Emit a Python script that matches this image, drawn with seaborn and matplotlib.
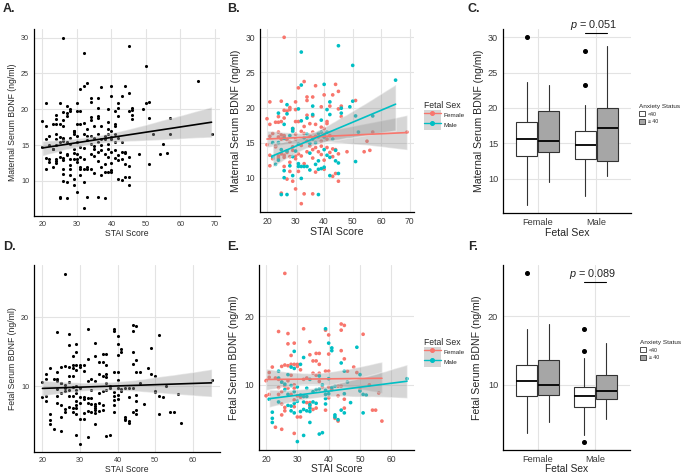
import matplotlib
matplotlib.use("Agg")
import numpy as np
import pandas as pd
import matplotlib.pyplot as plt
from matplotlib.patches import Patch
from matplotlib.lines import Line2D
import seaborn as sns

# --- Maternal serum BDNF vs STAI (panels A, B) ---
MAT_F_STAI = [
    26, 33, 31, 37, 44, 45, 43, 40,
    21, 25, 30, 34, 34, 36, 42, 45, 46, 51, 28, 28, 30, 39,
    20, 21, 24, 26, 27, 23, 24, 25, 26, 29, 30, 31, 33, 34, 35, 36, 37, 39, 40, 41, 41, 46,
    20, 21, 22, 23, 24, 24, 25, 25, 26, 26, 27, 28, 29, 30, 30, 32, 33, 34, 35, 36, 37, 38, 39, 40, 41, 42, 57, 69,
    21, 21, 22, 23, 24, 24, 25, 26, 26, 26, 27, 28, 28, 29, 29, 30, 30, 31, 32, 32,
    33, 34, 35, 36, 36, 37, 38, 39, 39, 40, 41, 42, 43, 43, 44, 45, 48, 54, 56, 55,
    27, 28, 29, 30, 31, 37, 40, 43, 44, 45, 25, 33, 36, 32,
]
MAT_F_BDNF = [
    30.0, 23.7, 22.8, 23.1, 23.3, 22.3, 21.8, 21.8,
    20.8, 20.9, 20.8, 21.5, 21.0, 21.5, 20.2, 19.8, 20.2, 21.0, 20.0, 19.7, 19.7, 20.1,
    18.4, 17.6, 18.7, 19.6, 19.5, 17.9, 17.9, 18.0, 18.5, 17.0, 18.0, 18.0, 17.3, 18.9, 17.7, 18.8, 17.6, 17.2, 17.0, 18.0, 17.7, 18.7,
    14.7, 15.9, 16.3, 14.5, 16.5, 15.8, 16.1, 15.5, 16.0, 15.8, 15.4, 15.1, 16.8, 16.2, 15.5, 16.6, 16.3, 15.2, 16.0, 16.5, 15.9, 15.8, 15.2, 16.1, 15.5, 16.0, 16.5, 16.5,
    11.7, 13.2, 12.7, 14.4, 13.1, 12.8, 13.4, 13.2, 12.9, 11.6, 13.6, 13.0, 12.2, 13.9, 14.4, 13.1, 12.7, 13.4, 13.1, 14.6,
    12.0, 13.7, 14.5, 14.0, 12.8, 14.3, 13.7, 14.5, 13.3, 12.5, 14.3, 13.6, 13.0, 14.1, 14.0, 13.4, 13.7, 13.7, 13.9, 15.2,
    9.8, 10.9, 9.5, 8.4, 10.9, 10.8, 11.2, 10.2, 10.6, 9.5, 7.8, 7.7, 7.7, 6.3,
]
MAT_M_STAI = [
    32, 45, 50, 65, 32, 40,
    42, 46, 50, 49, 27, 31, 36, 41,
    24, 27, 26, 29, 32, 34, 36, 39, 39, 42, 46, 51, 57,
    22, 24, 26, 28, 29, 31, 33, 34, 35, 36, 37, 38, 40, 41, 43, 52,
    22, 23, 24, 25, 26, 27, 28, 29, 30, 31, 31, 32, 33, 34, 35, 35, 37, 38, 40, 40, 41, 42, 44, 44, 45, 51,
    26, 29, 32, 38, 39, 42, 45, 25, 27, 38,
]
MAT_M_BDNF = [
    27.9, 28.8, 26.0, 23.9, 23.2, 23.3,
    20.8, 19.9, 20.9, 20.1, 20.4, 19.8, 20.2, 19.7,
    19.2, 19.1, 17.6, 16.6, 18.1, 18.5, 19.0, 18.2, 16.5, 19.0, 19.2, 18.8, 18.8,
    15.0, 15.0, 15.6, 16.0, 17.0, 14.8, 15.7, 16.2, 14.9, 15.5, 15.0, 16.3, 15.8, 16.5, 15.5, 16.5,
    13.0, 11.9, 12.5, 14.0, 11.0, 13.8, 11.7, 13.0, 13.8, 12.0, 11.6, 11.6, 11.6, 11.6, 13.5, 11.1, 11.9, 12.4, 14.0, 11.5, 13.2, 12.9, 12.4, 13.9, 12.1, 12.3,
    10.0, 10.3, 9.9, 11.2, 11.3, 10.3, 10.6, 7.6, 7.6, 7.6,
]

# --- Fetal serum BDNF vs STAI (panels D, E) ---
FET_F_STAI = [
    26, 24, 27, 27, 29, 28, 32, 34, 35, 36, 37, 37, 34, 36, 39, 40, 40, 40, 44, 45, 44, 44, 45, 51, 46, 48, 49,
    20, 20, 21, 21, 21, 22, 23, 23, 24, 24, 24, 25, 25, 25, 25, 25, 25, 26, 26, 26, 26, 27, 27, 27,
    28, 28, 28, 29, 29, 29, 29, 29, 29, 30, 30, 30, 30,
    31, 31, 31, 32, 33, 33, 34, 34, 35, 35, 36, 36, 37, 37, 38, 39, 39, 40, 40, 41, 42, 43, 43, 43,
    44, 45, 45, 50, 53, 54, 55, 56, 57,
]
FET_F_BDNF = [
    26.3, 17.8, 17.5, 16.0, 16.1, 14.3, 18.2, 16.3, 13.5, 14.6, 14.6, 13.0, 14.4, 13.5, 18.0, 17.3, 14.5, 12.0, 18.9, 18.7, 18.0, 15.0, 13.8, 17.4, 12.0, 12.6, 11.8,
    10.6, 8.4, 11.8, 11.1, 8.6, 12.6, 11.0, 3.8, 10.8, 9.6, 8.6, 12.7, 10.4, 9.0, 7.2, 5.6, 3.5, 12.9, 9.8, 6.7, 6.2, 12.8, 10.6, 9.5,
    13.0, 11.4, 8.6, 13.0, 10.0, 9.5, 7.8, 6.8, 2.9, 13.0, 12.7, 8.4, 5.3,
    12.2, 8.2, 5.3, 10.8, 11.0, 7.4, 7.4, 6.9, 11.7, 6.4, 11.4, 6.6, 11.7, 10.5, 9.7, 12.0, 6.3, 9.7, 8.1, 9.3, 5.1, 9.8, 4.7, 8.4,
    9.8, 6.6, 7.9, 9.3, 10.0, 6.3, 6.3, 8.8, 4.7,
]
FET_M_STAI = [
    29, 39, 40, 41, 41, 44, 49, 45, 50,
    21, 22, 22, 22, 24, 24, 24, 25, 26, 26, 27, 27, 27, 28, 28, 28, 28, 29, 29, 29, 29, 30, 30, 30,
    31, 31, 31, 32, 32, 32, 32, 32, 33, 33, 33, 34, 34, 34, 34, 34, 35, 35, 36, 36, 37, 37, 37, 38, 38,
    39, 39, 39, 39, 40, 40, 41, 42, 42, 42, 43, 44, 45, 45, 46, 47, 50, 51, 51, 52, 65,
]
FET_M_BDNF = [
    14.9, 18.2, 16.1, 15.4, 15.0, 13.2, 15.5, 12.0, 11.5,
    7.9, 6.0, 5.1, 4.5, 12.0, 11.0, 7.5, 10.4, 10.1, 9.3, 11.5, 8.6, 7.0, 12.6, 9.9, 6.9, 6.2, 12.4, 9.0, 7.3, 5.9, 9.7, 7.6, 1.7,
    13.0, 8.5, 6.1, 14.0, 8.3, 7.5, 6.4, 2.6, 9.5, 8.3, 6.2, 10.8, 7.1, 6.6, 6.1, 4.5, 9.0, 7.5, 9.3, 7.3, 11.3, 9.4, 2.8, 10.0, 3.0,
    9.2, 8.6, 8.0, 7.2, 10.9, 8.7, 9.6, 9.8, 5.6, 5.3, 4.9, 6.3, 8.7, 5.9, 10.4, 7.4, 9.1, 8.6, 5.9, 8.5, 10.9,
]

# --- Box summaries by fetal sex and anxiety status (panels C, F) ---
SEXES = ["Female", "Male"]
ANXIETY = ["<40", "\u2265 40"]
BOX_SEX = ["Female", "Female", "Male", "Male"]
BOX_ANX = ["<40", "\u2265 40", "<40", "\u2265 40"]
MAT_BOX_LO = [6.3, 9.5, 7.5, 10.3]
MAT_BOX_Q1 = [13.2, 13.7, 12.7, 12.5]
MAT_BOX_MED = [15.6, 15.3, 14.7, 17.2]
MAT_BOX_Q3 = [18.0, 19.6, 16.8, 20.0]
MAT_BOX_HI = [23.7, 23.3, 20.4, 28.8]
MAT_BOX_OUT = [[30.0], [], [23.2, 28.0], []]
FET_BOX_LO = [3.0, 4.6, 2.7, 5.0]
FET_BOX_Q1 = [8.3, 8.5, 6.7, 7.9]
FET_BOX_MED = [10.5, 10.0, 8.3, 9.1]
FET_BOX_Q3 = [12.9, 13.7, 9.7, 11.5]
FET_BOX_HI = [18.2, 18.9, 14.0, 16.1]
FET_BOX_OUT = [[26.3], [], [18.2, 14.9, 1.7], []]
MAT_P_TEXT, MAT_P_Y = "0.051", 30.55
FET_P_TEXT, FET_P_Y = "0.089", 25.0

SEX_COLORS = {"Female": "#F8766D", "Male": "#00BFC4"}
ANX_COLORS = {"<40": "white", "\u2265 40": "#A6A6A6"}
GRID = "#E3E3E3"

mat = pd.DataFrame({
    "stai": MAT_F_STAI + MAT_M_STAI,
    "bdnf": MAT_F_BDNF + MAT_M_BDNF,
    "sex": ["Female"] * len(MAT_F_STAI) + ["Male"] * len(MAT_M_STAI),
})
fet = pd.DataFrame({
    "stai": FET_F_STAI + FET_M_STAI,
    "bdnf": FET_F_BDNF + FET_M_BDNF,
    "sex": ["Female"] * len(FET_F_STAI) + ["Male"] * len(FET_M_STAI),
})

sns.set_theme(style="whitegrid")
plt.rcParams["font.family"] = ["Liberation Sans", "DejaVu Sans"]
plt.rcParams["mathtext.fontset"] = "custom"
plt.rcParams["mathtext.it"] = "Liberation Sans:italic"
plt.rcParams["mathtext.rm"] = "Liberation Sans"

W, H = 685, 474
fig = plt.figure(figsize=(W / 100, H / 100), dpi=100)
fig.patch.set_facecolor("white")


def panel(left, top, right, bottom):
    return fig.add_axes([left / W, 1 - bottom / H, (right - left) / W, (bottom - top) / H])


def expand(values, frac=0.05):
    lo, hi = min(values), max(values)
    pad = (hi - lo) * frac
    return lo - pad, hi + pad


def style(ax, tick_fs):
    ax.set_facecolor("white")
    ax.grid(True, color=GRID, lw=0.8)
    ax.set_axisbelow(True)
    for s in ["top", "right"]:
        ax.spines[s].set_visible(False)
    for s in ["left", "bottom"]:
        ax.spines[s].set_color("black")
        ax.spines[s].set_linewidth(0.9)
    ax.tick_params(length=2, width=0.6, color="#333333", labelsize=tick_fs,
                   labelcolor="#3A3A3A", pad=1.5)


def scatter_fit(ax, df, by_sex, size):
    if by_sex:
        sns.scatterplot(data=df, x="stai", y="bdnf", hue="sex", palette=SEX_COLORS,
                        hue_order=SEXES, s=size, linewidth=0, legend=False, ax=ax)
        groups = [(df[df["sex"] == s], SEX_COLORS[s]) for s in SEXES]
    else:
        sns.scatterplot(data=df, x="stai", y="bdnf", color="black", s=size,
                        linewidth=0, ax=ax)
        groups = [(df, "black")]
    for sub, col in groups:
        n = len(ax.collections)
        sns.regplot(data=sub, x="stai", y="bdnf", scatter=False, color=col, seed=3,
                    line_kws={"lw": 1.2}, ax=ax)
        for coll in ax.collections[n:]:
            coll.set_facecolor("#999999")
            coll.set_alpha(0.4)


def sex_legend(ax, x, y):
    handles = [(Patch(facecolor="#D6D6D6", edgecolor="none"),
                Line2D([], [], color=SEX_COLORS[s], lw=1, marker="o", ms=2.6))
               for s in SEXES]
    ax.legend(handles, SEXES, title="Fetal Sex", loc="upper left",
              bbox_to_anchor=(x / W, 1 - y / H), bbox_transform=fig.transFigure,
              frameon=False, fontsize=4.6, title_fontsize=6.2, handlelength=2.6,
              handleheight=2.0, handletextpad=0.5, labelspacing=0.0,
              borderpad=0, borderaxespad=0, alignment="left")


def box_panel(ax, lo, q1, med, q3, hi, out, p_text, p_y, ylim):
    stats = [dict(whislo=a, q1=b, med=c, q3=d, whishi=e, fliers=f)
             for a, b, c, d, e, f in zip(lo, q1, med, q3, hi, out)]
    pos = [1 + SEXES.index(s) + (-0.19 if a == ANXIETY[0] else 0.19)
           for s, a in zip(BOX_SEX, BOX_ANX)]
    art = ax.bxp(stats, positions=pos, widths=0.36, patch_artist=True, showcaps=False,
                 boxprops=dict(edgecolor="#333333", lw=0.8),
                 whiskerprops=dict(color="#333333", lw=0.8),
                 medianprops=dict(color="black", lw=1.3),
                 flierprops=dict(marker="o", markerfacecolor="black",
                                 markeredgecolor="black", markersize=2.6, linestyle="none"))
    for patch, a in zip(art["boxes"], BOX_ANX):
        patch.set_facecolor(ANX_COLORS[a])
    ax.set_xticks([1, 2])
    ax.set_xticklabels(SEXES)
    ax.set_xlim(0.4, 2.6)
    ax.set_ylim(*ylim)
    ax.plot([pos[2], pos[3]], [p_y, p_y], color="black", lw=0.8)
    ax.text(1.96, p_y + (ylim[1] - ylim[0]) * 0.006, f"$p$ = {p_text}", ha="center",
            va="bottom", fontsize=7.8, color="#222222", clip_on=False)


def anx_legend(ax, x, y):
    handles = [Patch(facecolor=ANX_COLORS[a], edgecolor="#333333", lw=0.6) for a in ANXIETY]
    ax.legend(handles, ANXIETY, title="Anxiety Status", loc="upper left",
              bbox_to_anchor=(x / W, 1 - y / H), bbox_transform=fig.transFigure,
              frameon=False, fontsize=3.8, title_fontsize=4.6, handlelength=1.1,
              handleheight=1.1, handletextpad=0.6, labelspacing=0.45,
              borderpad=0, borderaxespad=0, alignment="left")


mat_xlim, mat_ylim = expand(mat["stai"]), expand(mat["bdnf"])
fet_xlim, fet_ylim = expand(fet["stai"]), expand(fet["bdnf"])

# A
ax = panel(34, 29, 220, 216)
style(ax, 5.2)
scatter_fit(ax, mat, False, 5)
ax.set_xlim(*mat_xlim)
ax.set_ylim(*mat_ylim)
ax.set_xticks([20, 30, 40, 50, 60, 70])
ax.set_yticks([10, 15, 20, 25, 30])
ax.set_xlabel("STAI Score", fontsize=6.2, labelpad=1.0)
ax.set_ylabel("Maternal Serum BDNF (ng/ml)", fontsize=6.2, labelpad=3)

# B
ax = panel(260, 29, 414, 212)
style(ax, 6.2)
scatter_fit(ax, mat, True, 7)
ax.set_xlim(*mat_xlim)
ax.set_ylim(*mat_ylim)
ax.set_xticks([20, 30, 40, 50, 60, 70])
ax.set_yticks([10, 15, 20, 25, 30])
ax.set_xlabel("STAI Score", fontsize=7.6, labelpad=1.0)
ax.set_ylabel("Maternal Serum BDNF (ng/ml)", fontsize=7.6, labelpad=3)
sex_legend(ax, 424, 101)

# C
ax = panel(503, 29, 631, 213)
style(ax, 6.6)
box_panel(ax, MAT_BOX_LO, MAT_BOX_Q1, MAT_BOX_MED, MAT_BOX_Q3, MAT_BOX_HI, MAT_BOX_OUT,
          MAT_P_TEXT, MAT_P_Y, mat_ylim)
ax.set_yticks([10, 15, 20, 25, 30])
ax.set_xlabel("Fetal Sex", fontsize=7.6, labelpad=1.0)
ax.set_ylabel("Maternal Serum BDNF (ng/ml)", fontsize=7.6, labelpad=3)
anx_legend(ax, 639, 104)

# D
ax = panel(34, 265, 220, 452)
style(ax, 5.2)
scatter_fit(ax, fet, False, 5)
ax.set_xlim(*fet_xlim)
ax.set_ylim(*fet_ylim)
ax.set_xticks([20, 30, 40, 50, 60])
ax.set_yticks([10, 20])
ax.set_xlabel("STAI Score", fontsize=6.2, labelpad=0.5)
ax.set_ylabel("Fetal Serum BDNF (ng/ml)", fontsize=6.2, labelpad=3)

# E
ax = panel(259, 265, 414, 450)
style(ax, 6.2)
scatter_fit(ax, fet, True, 7)
ax.set_xlim(*fet_xlim)
ax.set_ylim(*fet_ylim)
ax.set_xticks([20, 30, 40, 50, 60])
ax.set_yticks([10, 20])
ax.set_xlabel("STAI Score", fontsize=7.4, labelpad=0.0)
ax.set_ylabel("Fetal Serum BDNF (ng/ml)", fontsize=7.6, labelpad=4)
sex_legend(ax, 424, 338)

# F
ax = panel(503, 265, 630, 450)
style(ax, 6.6)
box_panel(ax, FET_BOX_LO, FET_BOX_Q1, FET_BOX_MED, FET_BOX_Q3, FET_BOX_HI, FET_BOX_OUT,
          FET_P_TEXT, FET_P_Y, fet_ylim)
ax.set_yticks([10, 20])
ax.set_xlabel("Fetal Sex", fontsize=7.4, labelpad=0.0)
ax.set_ylabel("Fetal Serum BDNF (ng/ml)", fontsize=7.6, labelpad=4)
anx_legend(ax, 640, 340)

for letter, x, y in [("A.", 3, 3), ("B.", 227, 3), ("C.", 468, 3),
                     ("D.", 3, 241), ("E.", 227, 241), ("F.", 468, 241)]:
    fig.text(x / W, 1 - y / H, letter, fontsize=9, fontweight="bold", ha="left", va="top")

fig.savefig("out.png", dpi=100, facecolor="white")
